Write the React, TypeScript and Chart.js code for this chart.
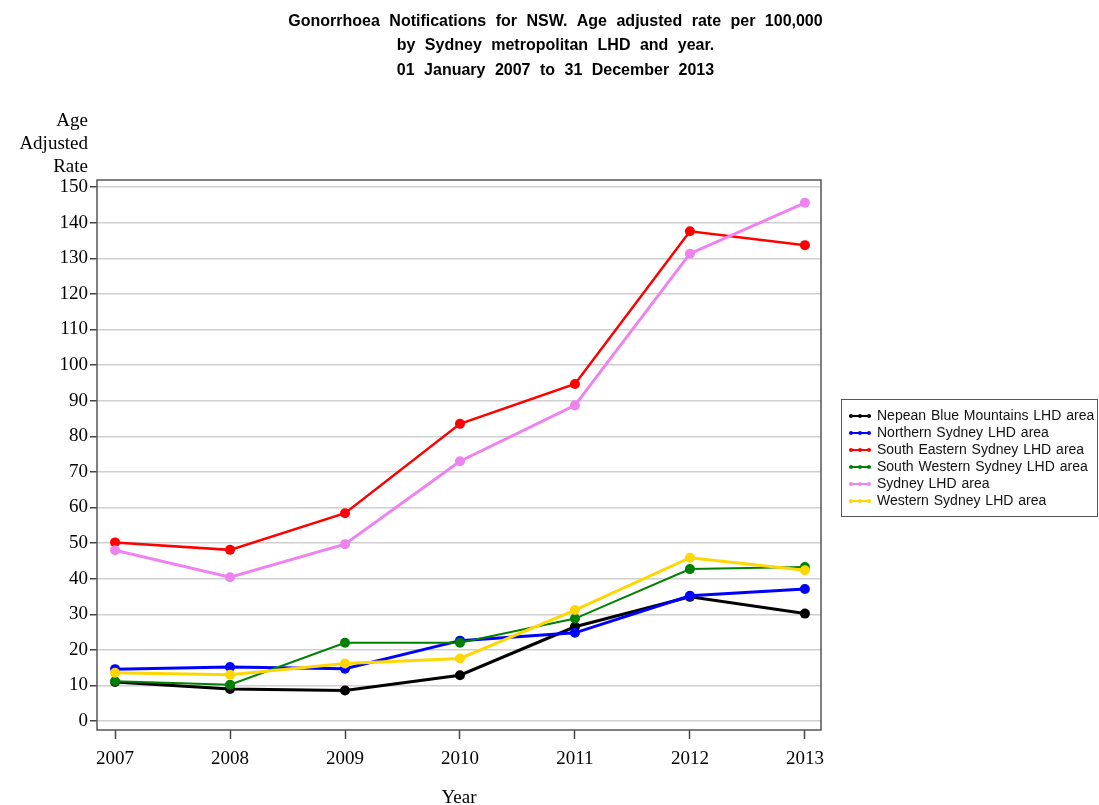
import React, { useEffect, useRef } from "react";
import { Chart, registerables } from "chart.js";

Chart.register(...registerables);

// ---------- data ----------
const years = [2007, 2008, 2009, 2010, 2011, 2012, 2013];
const yTickValues = [0, 10, 20, 30, 40, 50, 60, 70, 80, 90, 100, 110, 120, 130, 140, 150];

const seriesNames = [
  "Nepean Blue Mountains LHD area",
  "Northern Sydney LHD area",
  "South Eastern Sydney LHD area",
  "South Western Sydney LHD area",
  "Sydney LHD area",
  "Western Sydney LHD area",
];

const nepean = [11.0, 9.0, 8.6, 12.9, 26.5, 34.9, 30.2];
const northern = [14.6, 15.2, 14.7, 22.6, 24.8, 35.2, 37.1];
const southEastern = [50.2, 48.1, 58.4, 83.5, 94.7, 137.6, 133.7];
const southWestern = [11.2, 10.2, 22.0, 22.0, 28.8, 42.7, 43.3];
const sydney = [48.0, 40.4, 49.7, 73.0, 88.7, 131.3, 145.6];
const western = [13.6, 13.0, 16.2, 17.6, 31.2, 45.9, 42.4];

const seriesValues = [nepean, northern, southEastern, southWestern, sydney, western];

const seriesColors = ["#000000", "#0000FF", "#FF0000", "#008000", "#EE82EE", "#FFD700"];
const seriesLineWidths = [3, 3, 2.5, 2, 3, 3];

const titleLines = [
  "Gonorrhoea Notifications for NSW. Age adjusted rate per 100,000",
  "by Sydney metropolitan LHD and year.",
  "01 January 2007 to 31 December 2013",
];
const yTitleLines = ["Age", "Adjusted", "Rate"];
const xTitle = "Year";

const SERIF = '"Liberation Serif", "Times New Roman", serif';
const SANS = '"Liberation Sans", Arial, sans-serif';

const decorPlugin = {
  id: "decor",
  beforeDatasetsDraw(chart: any) {
    const { ctx, chartArea } = chart;
    ctx.save();
    ctx.strokeStyle = "#555555";
    ctx.lineWidth = 1.5;
    ctx.strokeRect(chartArea.left, chartArea.top, chartArea.right - chartArea.left, chartArea.bottom - chartArea.top);
    ctx.restore();
  },
  afterDraw(chart: any) {
    const { ctx, chartArea } = chart;
    ctx.save();
    // Title
    ctx.fillStyle = "#000";
    ctx.font = `bold 16px ${SANS}`;
    ctx.textAlign = "center";
    ctx.textBaseline = "middle";
    (ctx as any).wordSpacing = "5px";
    titleLines.forEach((t, i) => ctx.fillText(t, 555.5, 21.5 + i * 24.5));
    (ctx as any).wordSpacing = "0px";

    // Y title
    ctx.font = `19px ${SERIF}`;
    ctx.textAlign = "right";
    yTitleLines.forEach((t, i) => ctx.fillText(t, chartArea.left - 9, 121 + i * 23));

    // Legend
    const lx = 841, ly = 399, lw = 256, lh = 117;
    ctx.strokeStyle = "#555";
    ctx.lineWidth = 1;
    ctx.strokeRect(lx + 0.5, ly + 0.5, lw, lh);
    ctx.font = `14px ${SANS}`;
    ctx.textAlign = "left";
    (ctx as any).wordSpacing = "1px";
    chart.data.datasets.forEach((ds: any, i: number) => {
      const y = ly + 17 + i * 17;
      ctx.strokeStyle = ds.borderColor;
      ctx.fillStyle = ds.borderColor;
      ctx.lineWidth = 2;
      ctx.beginPath();
      ctx.moveTo(850, y);
      ctx.lineTo(870, y);
      ctx.stroke();
      [851, 860, 869].forEach((px) => {
        ctx.beginPath();
        ctx.arc(px, y, 2, 0, Math.PI * 2);
        ctx.fill();
      });
      ctx.fillStyle = "#111";
      ctx.fillText(ds.label, 877, y);
    });
    (ctx as any).wordSpacing = "0px";
    ctx.restore();
  },
};

export default function App() {
  const canvasRef = useRef<HTMLCanvasElement | null>(null);

  useEffect(() => {
    if (!canvasRef.current) return;
    const datasets = seriesNames.map((name, i) => ({
      label: name,
      data: years.map((yr, j) => ({ x: yr, y: seriesValues[i][j] })),
      borderColor: seriesColors[i],
      backgroundColor: seriesColors[i],
      borderWidth: seriesLineWidths[i],
      pointRadius: 5,
      pointHoverRadius: 5,
      pointBorderWidth: 0,
      pointBackgroundColor: seriesColors[i],
      tension: 0,
      fill: false,
      order: seriesNames.length - i,
    }));

    const chart = new Chart(canvasRef.current, {
      type: "line",
      data: { datasets },
      plugins: [decorPlugin],
      options: {
        animation: false,
        responsive: false,
        devicePixelRatio: 1,
        layout: { padding: { top: 180, right: 278, left: 0, bottom: 0 } },
        plugins: {
          legend: { display: false },
          title: { display: false },
          tooltip: { enabled: false },
        },
        scales: {
          x: {
            type: "linear",
            min: 2006.843,
            max: 2013.14,
            afterBuildTicks: (axis: any) => {
              axis.ticks = years.map((v) => ({ value: v }));
            },
            afterFit: (axis: any) => {
              axis.height = 75;
            },
            border: { display: false },
            grid: {
              drawOnChartArea: false,
              drawTicks: true,
              tickLength: 9,
              tickColor: "#444",
              tickWidth: 1.5,
            },
            ticks: {
              color: "#000",
              font: { family: SERIF, size: 19 },
              padding: 9,
              maxRotation: 0,
              autoSkip: false,
              callback: (v: any) => String(v),
            },
            title: {
              display: true,
              text: xTitle,
              color: "#000",
              font: { family: SERIF, size: 19 },
              padding: { top: 0, bottom: -4 },
            },
          },
          y: {
            type: "linear",
            min: -2.5,
            max: 152,
            afterBuildTicks: (axis: any) => {
              axis.ticks = yTickValues.map((v) => ({ value: v }));
            },
            afterFit: (axis: any) => {
              axis.width = 97;
            },
            border: { display: false },
            grid: {
              color: "#cfcfcf",
              lineWidth: 1.5,
              drawTicks: true,
              tickLength: 7,
              tickColor: "#444",
              tickWidth: 1.5,
            },
            ticks: {
              color: "#000",
              font: { family: SERIF, size: 19 },
              padding: 2,
              autoSkip: false,
            },
          },
        },
      },
    } as any);

    return () => chart.destroy();
  }, []);

  return (
    <div style={{ position: "absolute", left: 0, top: 0, width: 1099, height: 805, background: "#fff" }}>
      <canvas ref={canvasRef} width={1099} height={805} style={{ display: "block" }} />
    </div>
  );
}
